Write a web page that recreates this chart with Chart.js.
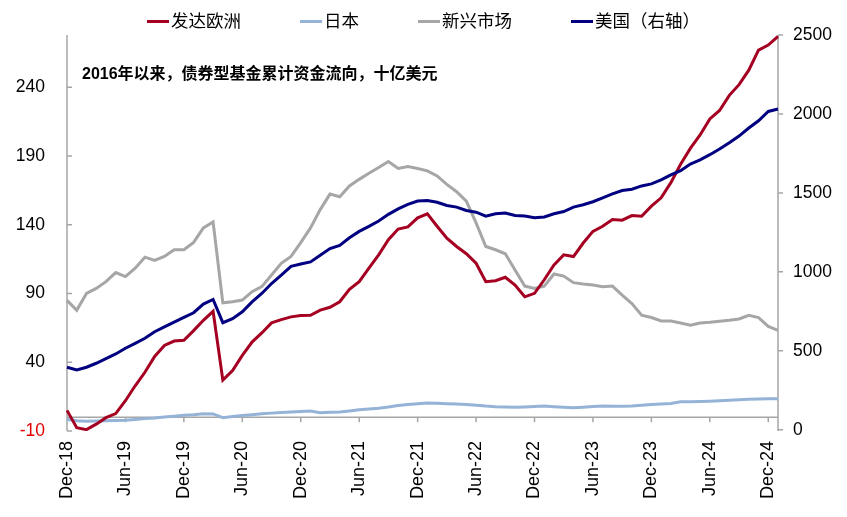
<!DOCTYPE html>
<html>
<head>
<meta charset="utf-8">
<script src="https://cdn.jsdelivr.net/npm/chart.js@4.4.1/dist/chart.umd.min.js"></script>
<style>
  body { margin: 0; background: #fff; }
  #wrap { position: relative; width: 847px; height: 517px; }
  #legend {
    position: absolute; top: 9px; left: 0; width: 847px;
    display: flex; justify-content: center; gap: 59px;
    font: 17.5px/24px "Liberation Sans", "Noto Sans CJK SC", sans-serif; color: #000;
  }
  .item { display: flex; align-items: center; }
  .mark { width: 22px; height: 3px; margin-right: 2px; }
</style>
</head>
<body>
<div id="wrap">
  <canvas id="chart" width="847" height="517"></canvas>
  <div id="legend"></div>
</div>
<script>
// monthly points, Dec-18 .. Jan-25
const months = [
  'Dec-18',
  'Jan-19','Feb-19','Mar-19','Apr-19','May-19','Jun-19','Jul-19','Aug-19','Sep-19','Oct-19','Nov-19','Dec-19',
  'Jan-20','Feb-20','Mar-20','Apr-20','May-20','Jun-20','Jul-20','Aug-20','Sep-20','Oct-20','Nov-20','Dec-20',
  'Jan-21','Feb-21','Mar-21','Apr-21','May-21','Jun-21','Jul-21','Aug-21','Sep-21','Oct-21','Nov-21','Dec-21',
  'Jan-22','Feb-22','Mar-22','Apr-22','May-22','Jun-22','Jul-22','Aug-22','Sep-22','Oct-22','Nov-22','Dec-22',
  'Jan-23','Feb-23','Mar-23','Apr-23','May-23','Jun-23','Jul-23','Aug-23','Sep-23','Oct-23','Nov-23','Dec-23',
  'Jan-24','Feb-24','Mar-24','Apr-24','May-24','Jun-24','Jul-24','Aug-24','Sep-24','Oct-24','Nov-24','Dec-24',
  'Jan-25'
];

// 发达欧洲 (left axis)
const europe = [
  5,
  -7.6, -9, -5, -0.3, 2.7, 12, 22.9, 32.7, 44.2, 52.2, 55.4, 56,
  63, 70.5, 77, 27, 34, 45, 54.7, 61.3, 68.6, 71, 73, 74,
  74.2, 77.9, 80, 84, 93, 98.6, 108.4, 118.1, 129.1, 136.9, 138.4, 145,
  148, 138.9, 130.3, 124.2, 118.9, 112, 98.6, 99.3, 101.8, 96.2, 87.6, 90.1,
  100, 110.8, 118.1, 116.9, 126.7, 135.2, 138.9, 143.8, 143.3, 146.7, 146.2, 153.5,
  159.6, 170.6, 184, 195.5, 205.3, 217, 223.1, 234.1, 241.9, 252.4, 267, 270.7,
  277
];

// 日本 (left axis)
const japan = [
  -1.7,
  -2.5, -2.9, -2.8, -2.6, -2.3, -2.1, -1.6, -1.0, -0.5, 0.2, 0.8, 1.4,
  1.8, 2.5, 2.4, -0.3, 0.6, 1.2, 1.9, 2.5, 3.0, 3.5, 3.8, 4.2,
  4.6, 3.3, 3.6, 3.8, 4.6, 5.4, 6.0, 6.6, 7.5, 8.6, 9.3, 9.8,
  10.3, 10.2, 9.9, 9.6, 9.3, 8.8, 8.1, 7.7, 7.5, 7.3, 7.5, 7.8,
  8.1, 7.6, 7.2, 6.9, 7.3, 7.8, 8.1, 8.0, 8.0, 8.1, 8.7, 9.3,
  9.6, 10.0, 11.2, 11.3, 11.5, 11.7, 12.0, 12.4, 12.8, 13.1, 13.3, 13.5,
  13.5
];

// 新兴市场 (left axis)
const emerging = [
  85,
  77.8, 90, 93.7, 98.6, 105.2, 102.3, 108.4, 116.4, 114, 117, 121.8, 121.8,
  127.2, 137.7, 142, 83.2, 84, 85.2, 91.3, 95, 103.5, 112, 117, 127,
  137.7, 151, 162.3, 160.4, 168.2, 173, 177.5, 181.6, 186, 181, 182.3, 180.9,
  179.2, 175.5, 169.4, 164, 157.2, 141.3, 124.2, 121.8, 118.9, 107.1, 95.4, 93.7,
  95.4, 104.2, 102.7, 97.9, 96.9, 96.2, 95, 95.4, 88.8, 82.7, 74.2, 72.5,
  70, 70, 68.6, 66.9, 68.6, 69.1, 69.8, 70.5, 71.5, 74.2, 72.5, 66.1,
  63.2
];

// 美国 (right axis)
const usa = [
  396,
  379, 396, 421, 450, 480, 516, 547, 579, 621, 652, 682, 711,
  741, 796, 825, 678, 703, 747, 810, 863, 926, 979, 1035, 1050,
  1063, 1105, 1147, 1168, 1216, 1256, 1288, 1322, 1364, 1399, 1427, 1448,
  1452, 1441, 1420, 1410, 1389, 1378, 1353, 1368, 1372, 1357, 1353, 1343,
  1348, 1368, 1382, 1410, 1425, 1444, 1469, 1494, 1515, 1523, 1544, 1557,
  1582, 1614, 1641, 1683, 1709, 1742, 1778, 1818, 1860, 1911, 1957, 2016,
  2031
];

const leftTicks = [-10, 40, 90, 140, 190, 240];
const rightTicks = [0, 500, 1000, 1500, 2000, 2500];
const note = '2016年以来，债券型基金累计资金流向，十亿美元';

const FONT = '"Liberation Sans", "Noto Sans CJK SC", sans-serif';
const AXIS_GREY = '#a6a6a6';

// axis lines, tick marks and the zero line are drawn by hand
const axisDecor = {
  id: 'axisDecor',
  beforeDatasetsDraw(chart) {
    const { ctx, chartArea: a, scales } = chart;
    const yl = scales.y, yr = scales.y1, xs = scales.x;
    ctx.save();
    ctx.strokeStyle = AXIS_GREY;
    ctx.lineWidth = 1.5;
    ctx.beginPath();
    ctx.moveTo(a.left, a.top);
    ctx.lineTo(a.left, a.bottom);
    yl.ticks.forEach(t => {
      const p = yl.getPixelForValue(t.value);
      ctx.moveTo(a.left, p);
      ctx.lineTo(a.left + 5, p);
    });
    ctx.moveTo(a.right, a.top);
    ctx.lineTo(a.right, a.bottom);
    yr.ticks.forEach(t => {
      const p = yr.getPixelForValue(t.value);
      ctx.moveTo(a.right, p);
      ctx.lineTo(a.right + 5, p);
    });
    const z = yl.getPixelForValue(0);
    ctx.moveTo(a.left, z);
    ctx.lineTo(a.right, z);
    xs.ticks.forEach(t => {
      const p = xs.getPixelForValue(t.value);
      ctx.moveTo(p, z);
      ctx.lineTo(p, z + 5);
    });
    ctx.stroke();
    ctx.restore();
  },
  afterDatasetsDraw(chart) {
    const { ctx, chartArea: a } = chart;
    ctx.save();
    ctx.font = 'bold 16px ' + FONT;
    ctx.fillStyle = '#000';
    ctx.textBaseline = 'middle';
    ctx.fillText(note, a.left + 15, 75);
    ctx.restore();
  }
};

const series = [
  { label: '发达欧洲', data: europe, color: '#a50021', axis: 'y', order: 1 },
  { label: '日本', data: japan, color: '#95b3d7', axis: 'y', order: 3 },
  { label: '新兴市场', data: emerging, color: '#a6a6a6', axis: 'y', order: 2 },
  { label: '美国（右轴）', data: usa, color: '#000080', axis: 'y1', order: 0 }
];

const chart = new Chart(document.getElementById('chart'), {
  type: 'line',
  data: {
    labels: months,
    datasets: series.map(s => ({
      label: s.label,
      data: s.data,
      borderColor: s.color,
      backgroundColor: s.color,
      borderWidth: 3,
      pointRadius: 0,
      tension: 0,
      yAxisID: s.axis,
      order: s.order
    }))
  },
  options: {
    responsive: false,
    animation: false,
    devicePixelRatio: 1,
    layout: { padding: { top: 35, left: 0, right: 0, bottom: 0 } },
    plugins: {
      legend: { display: false },
      tooltip: { enabled: false }
    },
    scales: {
      x: {
        type: 'category',
        offset: false,
        grid: { display: false, drawTicks: false },
        border: { display: false },
        ticks: {
          autoSkip: false,
          maxRotation: 90,
          minRotation: 90,
          padding: 10,
          color: '#000',
          font: { family: FONT, size: 18 }
        },
        afterBuildTicks: s => {
          s.ticks = s.ticks.filter(t => /^(Jun|Dec)/.test(months[t.value]));
        },
        afterFit: s => { s.height = 86; }
      },
      y: {
        position: 'left',
        min: -10,
        max: 278,
        grid: { display: false, drawTicks: false },
        border: { display: false },
        ticks: {
          padding: 22,
          color: c => (c.tick.value === -10 ? '#e00000' : '#000'),
          font: { family: FONT, size: 17.5 },
          callback: v => String(v)
        },
        afterBuildTicks: s => { s.ticks = leftTicks.map(v => ({ value: v })); },
        afterFit: s => { s.width = 67; }
      },
      y1: {
        position: 'right',
        min: -8,
        max: 2500,
        grid: { display: false, drawTicks: false },
        border: { display: false },
        ticks: {
          padding: 15,
          color: '#000',
          font: { family: FONT, size: 17.5 },
          callback: v => String(v)
        },
        afterBuildTicks: s => { s.ticks = rightTicks.map(v => ({ value: v })); },
        afterFit: s => { s.width = 69; }
      }
    }
  },
  plugins: [axisDecor]
});

// legend built from the datasets
const legend = document.getElementById('legend');
series.forEach(s => {
  const item = document.createElement('div');
  item.className = 'item';
  item.innerHTML = `<span class="mark" style="background:${s.color}"></span><span>${s.label}</span>`;
  legend.appendChild(item);
});
</script>
</body>
</html>
